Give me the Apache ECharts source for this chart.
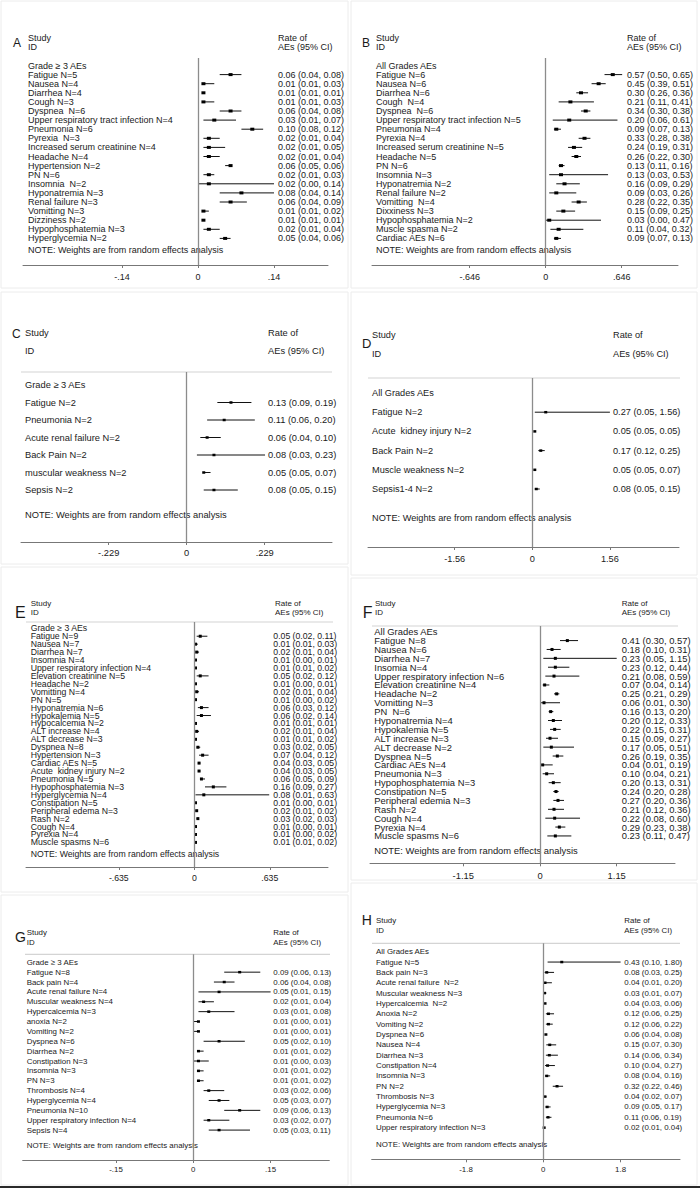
<!DOCTYPE html>
<html><head><meta charset="utf-8">
<script src="https://cdn.jsdelivr.net/npm/echarts@6/dist/echarts.min.js"></script>
<style>html,body{margin:0;padding:0;background:#fff}#c{width:700px;height:1188px}</style>
</head><body><div id="c"></div>
<script>
// ---------------- DATA ----------------
const groupG3 = 'Grade \u2265 3 AEs';
const groupAll = 'All Grades AEs';

const labelsA = ['Fatigue N=5','Nausea N=4','Diarrhea N=4','Cough N=3','Dyspnea  N=6','Upper respiratory tract infection N=4','Pneumonia N=6','Pyrexia  N=3','Increased serum creatinine N=4','Headache N=4','Hypertension N=2','PN N=6','Insomnia  N=2','Hyponatremia N=3','Renal failure N=3','Vomitting N=3','Dizziness N=2','Hypophosphatemia N=3','Hyperglycemia N=2'];
const estA = [0.06,0.01,0.01,0.01,0.06,0.03,0.10,0.02,0.02,0.02,0.06,0.02,0.02,0.08,0.06,0.01,0.01,0.02,0.05];
const loA  = [0.04,0.01,0.01,0.01,0.04,0.01,0.08,0.01,0.01,0.01,0.05,0.01,0.00,0.04,0.04,0.01,0.01,0.01,0.04];
const hiA  = [0.08,0.03,0.01,0.03,0.08,0.07,0.12,0.04,0.05,0.04,0.06,0.03,0.14,0.14,0.09,0.02,0.01,0.04,0.06];
const ticksA = [-0.14, 0, 0.14];

const labelsB = ['Fatigue N=6','Nausea N=6','Diarrhea N=6','Cough  N=4','Dyspnea  N=6','Upper respiratory tract infection N=5','Pneumonia N=4','Pyrexia N=4','Increased serum creatinine N=5','Headache N=5','PN N=6','Insomnia N=3','Hyponatremia N=2','Renal failure N=2','Vomitting  N=4','Dixxiness N=3','Hypophosphatemia N=2','Muscle spasma N=2','Cardiac AEs N=6'];
const estB = [0.57,0.45,0.30,0.21,0.34,0.20,0.09,0.33,0.24,0.26,0.13,0.13,0.16,0.09,0.28,0.15,0.03,0.11,0.09];
const loB  = [0.50,0.39,0.26,0.11,0.30,0.06,0.07,0.28,0.19,0.22,0.11,0.03,0.09,0.03,0.22,0.09,0.00,0.04,0.07];
const hiB  = [0.65,0.51,0.36,0.41,0.38,0.61,0.13,0.38,0.31,0.30,0.16,0.53,0.29,0.26,0.35,0.25,0.47,0.32,0.13];
const ticksB = [-0.646, 0, 0.646];

const labelsC = ['Fatigue N=2','Pneumonia N=2','Acute renal failure N=2','Back Pain N=2','muscular weakness N=2','Sepsis N=2'];
const estC = [0.13,0.11,0.06,0.08,0.05,0.08];
const loC  = [0.09,0.06,0.04,0.03,0.05,0.05];
const hiC  = [0.19,0.20,0.10,0.23,0.07,0.15];
const ticksC = [-0.229, 0, 0.229];

const labelsD = ['Fatigue N=2','Acute  kidney injury N=2','Back Pain N=2','Muscle weakness N=2','Sepsis1-4 N=2'];
const estD = [0.27,0.05,0.17,0.05,0.08];
const loD  = [0.05,0.05,0.12,0.05,0.05];
const hiD  = [1.56,0.05,0.25,0.07,0.15];
const ticksD = [-1.56, 0, 1.56];

const labelsE = ['Fatigue N=9','Nausea N=7','Diarrhea N=7','Insomnia N=4','Upper respiratory infection N=4','Elevation creatinine N=5','Headache N=2','Vomitting N=4','PN N=5','Hyponatremia N=6','Hypokalemia N=5','Hypocalcemia N=2','ALT increase N=4','ALT decrease N=3','Dyspnea N=8','Hypertension N=3','Cardiac AEs N=5','Acute  kidney injury N=2','Pneumonia N=5','Hypophosphatemia N=3','Hyperglycemia N=4','Constipation N=5','Peripheral edema N=3','Rash N=2','Cough N=4','Pyrexia N=4','Muscle spasms N=6'];
const estE = [0.05,0.01,0.02,0.01,0.01,0.05,0.01,0.02,0.01,0.06,0.06,0.01,0.02,0.01,0.03,0.07,0.04,0.04,0.06,0.16,0.08,0.01,0.02,0.03,0.01,0.01,0.01];
const loE  = [0.02,0.01,0.01,0.00,0.01,0.02,0.00,0.01,0.00,0.03,0.02,0.01,0.01,0.01,0.02,0.04,0.03,0.03,0.05,0.09,0.01,0.00,0.01,0.02,0.00,0.00,0.01];
const hiE  = [0.11,0.03,0.04,0.01,0.02,0.12,0.01,0.04,0.02,0.12,0.14,0.01,0.04,0.02,0.05,0.12,0.05,0.05,0.09,0.27,0.63,0.01,0.02,0.03,0.01,0.02,0.02];
const ticksE = [-0.635, 0, 0.635];

const labelsF = ['Fatigue N=8','Nausea N=6','Diarrhea N=7','Insomia N=4','Upper respiratory infection N=6','Elevation creatinine N=4','Headache N=2','Vomitting N=3','PN  N=6','Hyponatremia N=4','Hypokalemia N=5','ALT increase N=3','ALT decrease N=2','Dyspnea N=5','Cardiac AEs N=4','Pneumonia N=3','Hypophosphatemia N=3','Constipation N=5','Peripheral edemia N=3','Rash N=2','Cough N=4','Pyrexia N=4','Muscle spasms N=6'];
const estF = [0.41,0.18,0.23,0.23,0.21,0.07,0.25,0.06,0.16,0.20,0.22,0.15,0.17,0.26,0.04,0.10,0.20,0.24,0.27,0.21,0.22,0.29,0.23];
const loF  = [0.30,0.10,0.05,0.12,0.08,0.04,0.21,0.01,0.13,0.12,0.15,0.09,0.05,0.19,0.01,0.04,0.13,0.20,0.20,0.12,0.08,0.23,0.11];
const hiF  = [0.57,0.31,1.15,0.44,0.59,0.14,0.29,0.30,0.20,0.33,0.31,0.27,0.51,0.35,0.19,0.21,0.31,0.28,0.36,0.36,0.60,0.38,0.47];
const ticksF = [-1.15, 0, 1.15];

const labelsG = ['Fatigue N=8','Back pain N=4','Acute renal failure N=4','Muscular weakness N=4','Hypercalcemia N=3','anoxia N=2','Vomiting N=2','Dyspnea N=6','Diarrhea N=2','Constipation N=3','Insomnia N=3','PN N=3','Thrombosis N=4','Hyperglycemia N=4','Pneumonia N=10','Upper respiratory infection N=4','Sepsis N=4'];
const estG = [0.09,0.06,0.05,0.02,0.03,0.01,0.01,0.05,0.01,0.01,0.01,0.01,0.03,0.05,0.09,0.03,0.05];
const loG  = [0.06,0.04,0.01,0.01,0.01,0.00,0.00,0.02,0.01,0.00,0.01,0.01,0.02,0.03,0.06,0.02,0.03];
const hiG  = [0.13,0.08,0.15,0.04,0.08,0.01,0.01,0.10,0.02,0.03,0.02,0.02,0.06,0.07,0.13,0.07,0.11];
const ticksG = [-0.15, 0, 0.15];

const labelsH = ['Fatigue N=5','Back pain N=3','Acute renal failure  N=2','Muscular weakness N=3','Hypercalcemia  N=2','Anoxia N=2','Vomiting N=2','Dyspnea N=6','Nausea N=4','Diarrhea N=3','Constipation N=4','Insomnia N=3','PN N=2','Thrombosis N=3','Hyperglycemia N=3','Pneumonia N=6','Upper respiratory infection N=3'];
const estH = [0.43,0.08,0.04,0.03,0.04,0.12,0.12,0.06,0.15,0.14,0.10,0.08,0.32,0.04,0.09,0.11,0.02];
const loH  = [0.10,0.03,0.01,0.01,0.03,0.06,0.06,0.04,0.07,0.06,0.04,0.04,0.22,0.02,0.05,0.06,0.01];
const hiH  = [1.80,0.25,0.20,0.07,0.06,0.25,0.22,0.08,0.30,0.34,0.27,0.16,0.46,0.07,0.17,0.19,0.04];
const ticksH = [-1.8, 0, 1.8];

const noteText = 'NOTE: Weights are from random effects analysis';

// ---------------- LAYOUT ----------------
const layouts = {
  A:{letter:[13,43,12], study:[28,38,47], hfs:9, rate:278, fs:9,   hdr:null,          top:58,    r0:65.5,  step:9.1,  note:250,    axisY:265,    ax:[23,328],     zeroX:198,   tickPx:76,   labelX:28,    rightX:278,   lm:7.5, mk:[4,3]},
  B:{letter:[362,43,12],study:[376,38,47], hfs:9, rate:627, fs:9,   hdr:null,          top:58,    r0:65.5,  step:9.1,  note:250,    axisY:265,    ax:[372,678],    zeroX:545.7, tickPx:76,   labelX:376,   rightX:627,   lm:7.5, mk:[4,3]},
  C:{letter:[12,334,12], study:[25,333,351], hfs:9.3, rate:268, fs:9.3, hdr:[21,332,372],  top:372,   r0:385,   step:17.5, note:515,    axisY:542,    ax:[21,332],     zeroX:186.7, tickPx:78,   labelX:25,    rightX:268,   lm:6.4, mk:[3,2.5]},
  D:{letter:[362,343,13],study:[372,335,354], hfs:9.2, rate:613, fs:9.2, hdr:[368,680,378], top:378,   r0:393,   step:19.2, note:518,    axisY:547,    ax:[368,679],    zeroX:532.3, tickPx:77.6, labelX:372,   rightX:613,   lm:7.7, mk:[3,2.5]},
  E:{letter:[15,612,16], study:[30.7,603.5,612.5], hfs:8, rate:275, fs:8.7, hdr:[26,333,622],  top:622,   r0:628.3, step:7.93, note:854,    axisY:867,    ax:[26,328],     zeroX:194.3, tickPx:75.5, labelX:30.7,  rightX:273.3, lm:6.6, mk:[3,3]},
  F:{letter:[362.7,612,16],study:[375,603.5,612.5], hfs:8, rate:621.7,fs:9.4,hdr:[372,678,626],top:626, r0:631.7, step:8.88, note:850.7,  axisY:863.3,  ax:[370,675],    zeroX:540,   tickPx:76.7, labelX:374.3, rightX:621.7, lm:7.7, mk:[3,3]},
  G:{letter:[15,937,14], study:[26.7,932.7,942.7], hfs:7.9, rate:273.3,fs:7.9,hdr:[25,330,954.3],top:954.3,r0:962.3,step:9.87,note:1145,axisY:1160,   ax:[22.7,329.3], zeroX:193.3, tickPx:77.3, labelX:26.7,  rightX:273.3, lm:5,   mk:[3,2.5]},
  H:{letter:[361.7,920,14],study:[376,920,930.7], hfs:7.9, rate:624.3,fs:7.9,hdr:[372,680,943.3],top:943.3,r0:951.7,step:10.35,note:1144.3,axisY:1159.3,ax:[371.7,680],zeroX:543.3, tickPx:77.3, labelX:376,   rightX:624.3, lm:6,   mk:[3,2.5]}
};

const panels = [
  {id:'A', group:groupG3,  labels:labelsA, est:estA, lo:loA, hi:hiA, ticks:ticksA},
  {id:'B', group:groupAll, labels:labelsB, est:estB, lo:loB, hi:hiB, ticks:ticksB},
  {id:'C', group:groupG3,  labels:labelsC, est:estC, lo:loC, hi:hiC, ticks:ticksC},
  {id:'D', group:groupAll, labels:labelsD, est:estD, lo:loD, hi:hiD, ticks:ticksD},
  {id:'E', group:groupG3,  labels:labelsE, est:estE, lo:loE, hi:hiE, ticks:ticksE},
  {id:'F', group:groupAll, labels:labelsF, est:estF, lo:loF, hi:hiF, ticks:ticksF},
  {id:'G', group:groupG3,  labels:labelsG, est:estG, lo:loG, hi:hiG, ticks:ticksG},
  {id:'H', group:groupAll, labels:labelsH, est:estH, lo:loH, hi:hiH, ticks:ticksH}
];

const FONT = '"Liberation Sans", Arial, Helvetica, sans-serif';
const TXT = '#1a1a1a';

function stataTick(v){
  if (v === 0) return '0';
  const s = String(Math.abs(v)).replace(/^0(?=\.)/, '');
  return (v < 0 ? '-' : '') + s;
}
function fmtCI(e, l, h){ return e.toFixed(2)+' ('+l.toFixed(2)+', '+h.toFixed(2)+')'; }

const grids = [], xAxes = [], yAxes = [], series = [], graphics = [];

// panel frames
const frames = [[1,1,347,287],[351,1,346,287],[1,292,347,272],[351,292,346,283],[1,567,347,325],[351,578,346,302],[1,895,347,290],[351,883,346,302]];
frames.forEach(f => graphics.push({type:'rect', shape:{x:f[0],y:f[1],width:f[2],height:f[3]}, style:{fill:'none', stroke:'#ececec', lineWidth:1}, silent:true}));
graphics.push({type:'rect', shape:{x:0,y:1186,width:700,height:2}, style:{fill:'#2a2a2a'}, silent:true});

function txt(x, y, text, size){
  return {type:'text', x:x, y:y, silent:true,
    style:{text:text, fill:TXT, fontSize:size, fontFamily:FONT, align:'left', verticalAlign:'middle'}};
}

panels.forEach((p, k) => {
  const L = layouts[p.id];
  const T = p.ticks[2];
  const ppu = L.tickPx / T;
  grids.push({left:L.ax[0], top:L.top, width:L.ax[1]-L.ax[0], height:L.axisY-L.top, containLabel:false});
  xAxes.push({
    type:'value', gridIndex:k,
    min:(L.ax[0]-L.zeroX)/ppu, max:(L.ax[1]-L.zeroX)/ppu,
    axisLine:{show:true, onZero:false, lineStyle:{color:'#777', width:1}},
    axisTick:{show:true, customValues:p.ticks, length:3, lineStyle:{color:'#777'}},
    axisLabel:{show:true, customValues:p.ticks, formatter:stataTick, color:TXT, fontSize:L.fs, fontFamily:FONT, margin:L.lm},
    splitLine:{show:false}
  });
  yAxes.push({type:'value', gridIndex:k, inverse:true, show:false,
    min:(L.top-L.r0)/L.step, max:(L.axisY-L.r0)/L.step});

  const data = p.est.map((e, i) => [i+1, e, p.lo[i], p.hi[i]]);
  series.push({
    type:'custom', xAxisIndex:k, yAxisIndex:k, clip:false, silent:true,
    data:data, encode:{x:[1,2,3], y:0},
    renderItem:function(params, api){
      const r = api.value(0), e = api.value(1), l = api.value(2), h = api.value(3);
      const pl = api.coord([l, r]), ph = api.coord([h, r]), pe = api.coord([e, r]);
      const i = params.dataIndex;
      return {type:'group', children:[
        {type:'line', shape:{x1:pl[0], y1:pl[1], x2:ph[0], y2:ph[1]}, style:{stroke:'#111', lineWidth:1}},
        {type:'rect', shape:{x:pe[0]-L.mk[0]/2, y:pe[1]-L.mk[1]/2, width:L.mk[0], height:L.mk[1]}, style:{fill:'#000'}},
        {type:'text', x:L.labelX, y:pe[1], style:{text:p.labels[i], fill:TXT, fontSize:L.fs, fontFamily:FONT, align:'left', verticalAlign:'middle'}},
        {type:'text', x:L.rightX, y:pe[1], style:{text:fmtCI(e,l,h), fill:TXT, fontSize:L.fs, fontFamily:FONT, align:'left', verticalAlign:'middle'}}
      ]};
    },
    markLine:{silent:true, symbol:['none','none'], animation:false, label:{show:false},
      lineStyle:{color:'#8c8c8c', width:1.3, type:'solid'}, data:[{xAxis:0}]}
  });

  // headers
  graphics.push(txt(L.letter[0], L.letter[1], p.id, L.letter[2]));
  graphics.push(txt(L.study[0], L.study[1], 'Study', L.hfs));
  graphics.push(txt(L.study[0], L.study[2], 'ID', L.hfs));
  graphics.push(txt(L.rate, L.study[1], 'Rate of', L.hfs));
  graphics.push(txt(L.rate, L.study[2], 'AEs (95% CI)', L.hfs));
  if (L.hdr) graphics.push({type:'line', silent:true, shape:{x1:L.hdr[0], y1:L.hdr[2], x2:L.hdr[1], y2:L.hdr[2]}, style:{stroke:'#d4d4d4', lineWidth:1.2}});
  graphics.push(txt(L.labelX, L.r0, p.group, L.fs));
  graphics.push(txt(L.labelX, L.note, noteText, L.fs));
});

const chart = echarts.init(document.getElementById('c'), null, {renderer:'svg'});
chart.setOption({
  animation:false, backgroundColor:'#fff',
  grid:grids, xAxis:xAxes, yAxis:yAxes, series:series,
  graphic:{elements:graphics}
});
</script></body></html>
